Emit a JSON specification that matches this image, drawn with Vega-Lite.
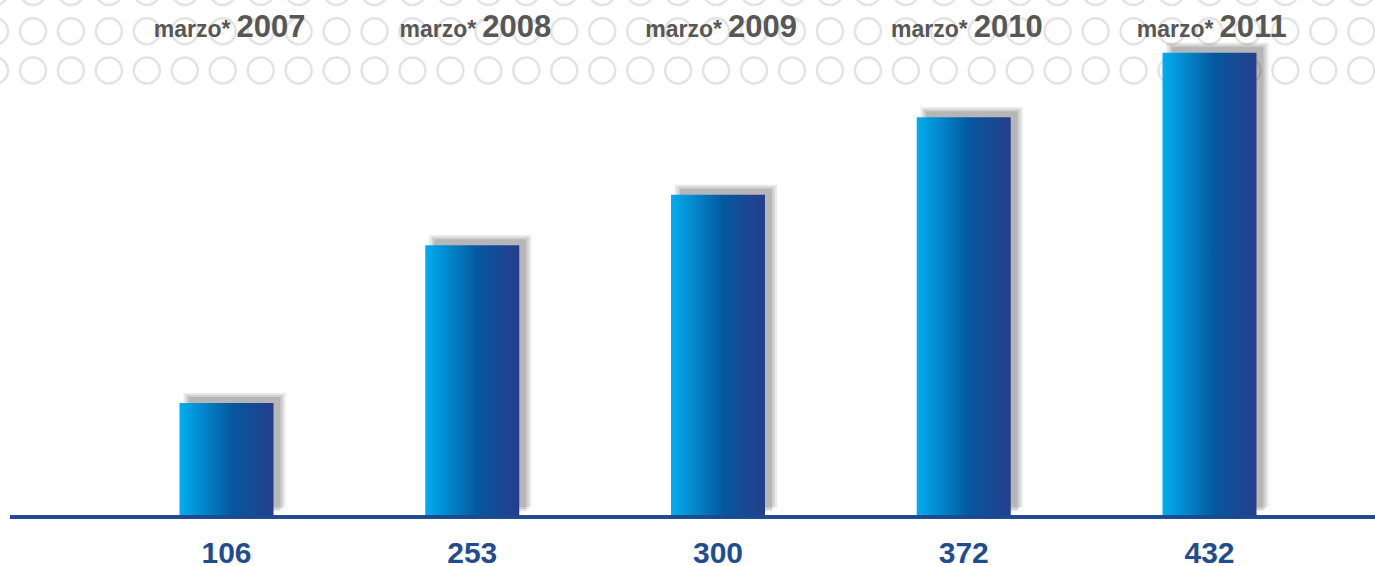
{
  "$schema": "https://vega.github.io/schema/vega-lite/v6.json",
  "width": 1365,
  "height": 566,
  "autosize": {"type": "none"},
  "padding": {"left": 10, "right": 0, "top": 0, "bottom": 0},
  "background": "#ffffff",
  "config": {"view": {"stroke": null}},
  "datasets": {
    "bars": [
      {"year": "2007", "mes": "marzo*", "value": 106},
      {"year": "2008", "mes": "marzo*", "value": 253},
      {"year": "2009", "mes": "marzo*", "value": 300},
      {"year": "2010", "mes": "marzo*", "value": 372},
      {"year": "2011", "mes": "marzo*", "value": 432}
    ],
    "circles": [
      {"col": -1, "line": 0}, {"col": 0, "line": 0}, {"col": 1, "line": 0}, {"col": 2, "line": 0}, {"col": 3, "line": 0}, {"col": 4, "line": 0}, {"col": 5, "line": 0}, {"col": 6, "line": 0}, {"col": 7, "line": 0}, {"col": 8, "line": 0}, {"col": 9, "line": 0}, {"col": 10, "line": 0}, {"col": 11, "line": 0}, {"col": 12, "line": 0}, {"col": 13, "line": 0}, {"col": 14, "line": 0}, {"col": 15, "line": 0}, {"col": 16, "line": 0}, {"col": 17, "line": 0}, {"col": 18, "line": 0}, {"col": 19, "line": 0}, {"col": 20, "line": 0}, {"col": 21, "line": 0}, {"col": 22, "line": 0}, {"col": 23, "line": 0}, {"col": 24, "line": 0}, {"col": 25, "line": 0}, {"col": 26, "line": 0}, {"col": 27, "line": 0}, {"col": 28, "line": 0}, {"col": 29, "line": 0}, {"col": 30, "line": 0}, {"col": 31, "line": 0}, {"col": 32, "line": 0}, {"col": 33, "line": 0}, {"col": 34, "line": 0}, {"col": 35, "line": 0},
      {"col": -1, "line": 1}, {"col": 0, "line": 1}, {"col": 1, "line": 1}, {"col": 2, "line": 1}, {"col": 3, "line": 1}, {"col": 4, "line": 1}, {"col": 5, "line": 1}, {"col": 6, "line": 1}, {"col": 7, "line": 1}, {"col": 8, "line": 1}, {"col": 9, "line": 1}, {"col": 10, "line": 1}, {"col": 11, "line": 1}, {"col": 12, "line": 1}, {"col": 13, "line": 1}, {"col": 14, "line": 1}, {"col": 15, "line": 1}, {"col": 16, "line": 1}, {"col": 17, "line": 1}, {"col": 18, "line": 1}, {"col": 19, "line": 1}, {"col": 20, "line": 1}, {"col": 21, "line": 1}, {"col": 22, "line": 1}, {"col": 23, "line": 1}, {"col": 24, "line": 1}, {"col": 25, "line": 1}, {"col": 26, "line": 1}, {"col": 27, "line": 1}, {"col": 28, "line": 1}, {"col": 29, "line": 1}, {"col": 30, "line": 1}, {"col": 31, "line": 1}, {"col": 32, "line": 1}, {"col": 33, "line": 1}, {"col": 34, "line": 1}, {"col": 35, "line": 1},
      {"col": -1, "line": 2}, {"col": 0, "line": 2}, {"col": 1, "line": 2}, {"col": 2, "line": 2}, {"col": 3, "line": 2}, {"col": 4, "line": 2}, {"col": 5, "line": 2}, {"col": 6, "line": 2}, {"col": 7, "line": 2}, {"col": 8, "line": 2}, {"col": 9, "line": 2}, {"col": 10, "line": 2}, {"col": 11, "line": 2}, {"col": 12, "line": 2}, {"col": 13, "line": 2}, {"col": 14, "line": 2}, {"col": 15, "line": 2}, {"col": 16, "line": 2}, {"col": 17, "line": 2}, {"col": 18, "line": 2}, {"col": 19, "line": 2}, {"col": 20, "line": 2}, {"col": 21, "line": 2}, {"col": 22, "line": 2}, {"col": 23, "line": 2}, {"col": 24, "line": 2}, {"col": 25, "line": 2}, {"col": 26, "line": 2}, {"col": 27, "line": 2}, {"col": 28, "line": 2}, {"col": 29, "line": 2}, {"col": 30, "line": 2}, {"col": 31, "line": 2}, {"col": 32, "line": 2}, {"col": 33, "line": 2}, {"col": 34, "line": 2}, {"col": 35, "line": 2}
    ]
  },
  "resolve": {"scale": {"x": "independent", "y": "independent"}},
  "layer": [
    {
      "data": {"name": "circles"},
      "mark": {"type": "point", "shape": "circle", "filled": false, "stroke": "#e3e3e3", "strokeWidth": 2.5, "size": 676, "opacity": 1},
      "encoding": {
        "x": {"field": "col", "type": "quantitative", "axis": null, "scale": {"domain": [-0.606, 35.362], "nice": false, "zero": false}},
        "y": {"field": "line", "type": "quantitative", "axis": null, "scale": {"domain": [-12.624, 1.796], "nice": false, "zero": false}}
      }
    },
    {
      "data": {"name": "bars"},
      "encoding": {
        "x": {"field": "year", "type": "nominal", "axis": null, "sort": null,
              "scale": {"type": "band", "paddingInner": 0.6175, "paddingOuter": 0.586, "align": 0.5885}},
        "y": {"field": "value", "type": "quantitative", "axis": null, "scale": {"domain": [-45.6, 481.2], "nice": false, "zero": false}}
      },
      "layer": [
        {"mark": {"type": "bar", "width": 102, "xOffset": 8, "yOffset": -10, "y2Offset": -9, "color": "#000000", "opacity": 0.09}},
        {"mark": {"type": "bar", "width": 97, "xOffset": 8, "yOffset": -8, "y2Offset": -8, "color": "#000000", "opacity": 0.1}},
        {"mark": {"type": "bar", "width": 92, "xOffset": 8, "yOffset": -6, "y2Offset": -7, "color": "#000000", "opacity": 0.12}},
        {"mark": {"type": "bar", "width": 94, "color": {"gradient": "linear", "x1": 0, "x2": 1, "y1": 0, "y2": 0,
          "stops": [{"offset": 0, "color": "#00aeef"}, {"offset": 0.55, "color": "#0459a0"}, {"offset": 1, "color": "#263d8b"}]}}},
        {"mark": {"type": "rule", "color": "#1c4a8f", "strokeWidth": 3}, "encoding": {"x": null, "y": {"datum": 0}}},
        {"mark": {"type": "text", "align": "right", "baseline": "alphabetic", "dx": 4, "font": "Liberation Sans", "fontWeight": "bold", "fontSize": 23, "color": "#575757"},
         "encoding": {"y": {"datum": 447}, "text": {"field": "mes"}}},
        {"mark": {"type": "text", "align": "left", "baseline": "alphabetic", "dx": 10, "font": "Liberation Sans", "fontWeight": "bold", "fontSize": 31, "color": "#575757"},
         "encoding": {"y": {"datum": 447}, "text": {"field": "year"}}},
        {"mark": {"type": "text", "align": "center", "baseline": "alphabetic", "dy": 46, "font": "Liberation Sans", "fontWeight": "bold", "fontSize": 30, "color": "#1f4d8f"},
         "encoding": {"y": {"datum": 0}, "text": {"field": "value"}}}
      ]
    }
  ]
}
